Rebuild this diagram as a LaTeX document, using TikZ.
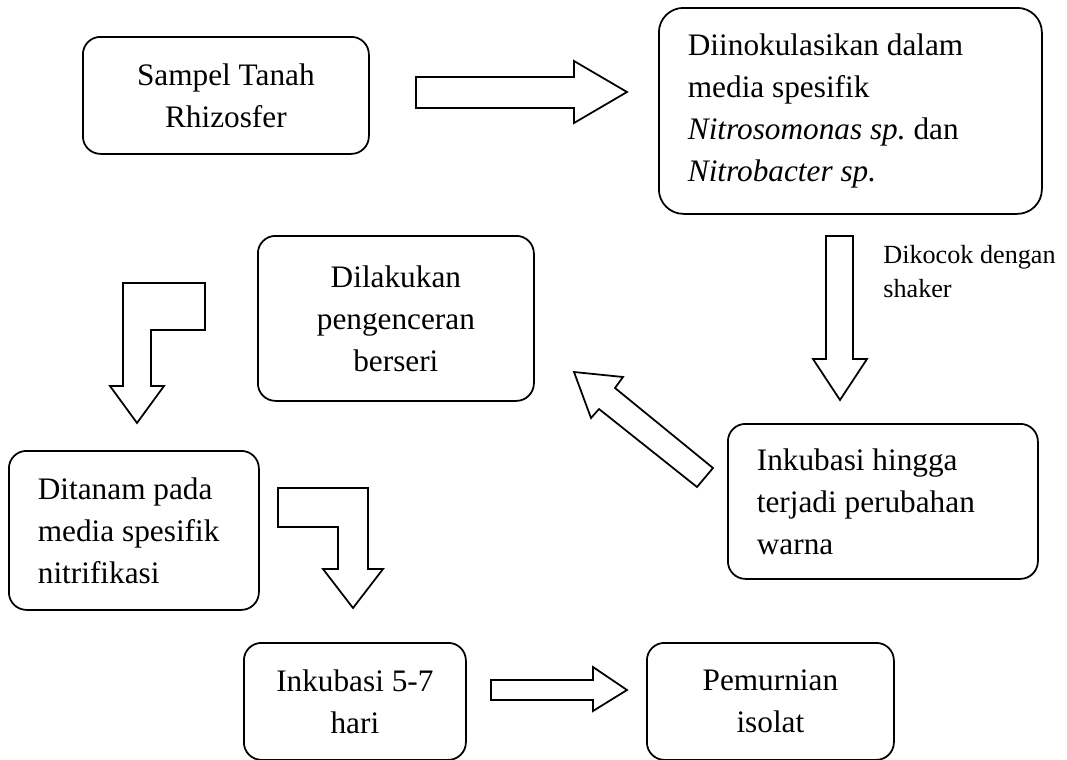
\documentclass[tikz,border=0pt]{standalone}
\usepackage{fontspec}
\setmainfont{Liberation Serif}

\begin{document}
\frenchspacing
\begin{tikzpicture}[
 x=1cm,y=1cm,font=\fontsize{17.8}{23.9}\selectfont,
 box/.style={draw=black,fill=white,rounded corners=10pt,line width=1pt,align=center,inner sep=4pt},
 boxl/.style={box,align=flush left,inner xsep=0.58cm},
 blk/.style={draw=black,fill=white,line width=1pt,line join=miter},
 lab/.style={font=\fontsize{14.9}{19.5}\selectfont,align=flush left,inner sep=0pt,anchor=north west}
]
\useasboundingbox (0,0) rectangle (21.34,-15.18);

\node[box,minimum width=5.72cm,minimum height=2.34cm,anchor=north west] (samp) at (1.64,-.72) {Sampel Tanah\\Rhizosfer};
\node[boxl,rounded corners=14pt,text width=6.5cm,minimum height=4.12cm,anchor=north west] (inok) at (13.16,-.14) {Diinokulasikan dalam\\media spesifik\\\textit{Nitrosomonas sp.} dan\\\textit{Nitrobacter sp.}};
\node[box,minimum width=5.52cm,minimum height=3.3cm,anchor=north west] (dil) at (5.14,-4.7) {Dilakukan\\pengenceran\\berseri};
\node[boxl,text width=5.04cm,minimum height=3.1cm,anchor=north west] (inkh) at (14.54,-8.46) {Inkubasi hingga\\terjadi perubahan\\warna};
\node[boxl,text width=3.84cm,minimum height=3.18cm,anchor=north west] (tan) at (.16,-9) {Ditanam pada\\media spesifik\\nitrifikasi};
\node[box,minimum width=4.44cm,minimum height=2.34cm,anchor=north west] (inkd) at (4.86,-12.84) {Inkubasi 5-7\\hari};
\node[box,minimum width=4.94cm,minimum height=2.34cm,anchor=north west] (pem) at (12.92,-12.84) {Pemurnian\\isolat};
\node[lab] (kocok) at (17.66,-4.9) {Dikocok dengan\\shaker};

% block arrows
\draw[blk] (8.32,-1.54) -- (11.48,-1.54) -- (11.48,-1.22) -- (12.54,-1.84) -- (11.48,-2.46) -- (11.48,-2.16) -- (8.32,-2.16) -- cycle;
\draw[blk] (16.52,-4.72) -- (17.06,-4.72) -- (17.06,-7.18) -- (17.34,-7.18) -- (16.8,-8) -- (16.26,-7.18) -- (16.52,-7.18) -- cycle;
\draw[blk] (14.26,-9.36) -- (12.3,-7.76) -- (12.46,-7.54) -- (11.48,-7.44) -- (11.82,-8.36) -- (11.98,-8.18) -- (13.94,-9.74) -- cycle;
\draw[blk] (2.46,-5.66) -- (4.1,-5.66) -- (4.1,-6.6) -- (3.02,-6.6) -- (3.02,-7.72) -- (3.28,-7.72) -- (2.74,-8.46) -- (2.2,-7.72) -- (2.46,-7.72) -- cycle;
\draw[blk] (5.56,-9.76) -- (7.36,-9.76) -- (7.36,-11.38) -- (7.66,-11.38) -- (7.06,-12.16) -- (6.46,-11.38) -- (6.76,-11.38) -- (6.76,-10.54) -- (5.56,-10.54) -- cycle;
\draw[blk] (9.82,-13.6) -- (11.86,-13.6) -- (11.86,-13.34) -- (12.54,-13.8) -- (11.86,-14.22) -- (11.86,-14) -- (9.82,-14) -- cycle;
\end{tikzpicture}
\end{document}
